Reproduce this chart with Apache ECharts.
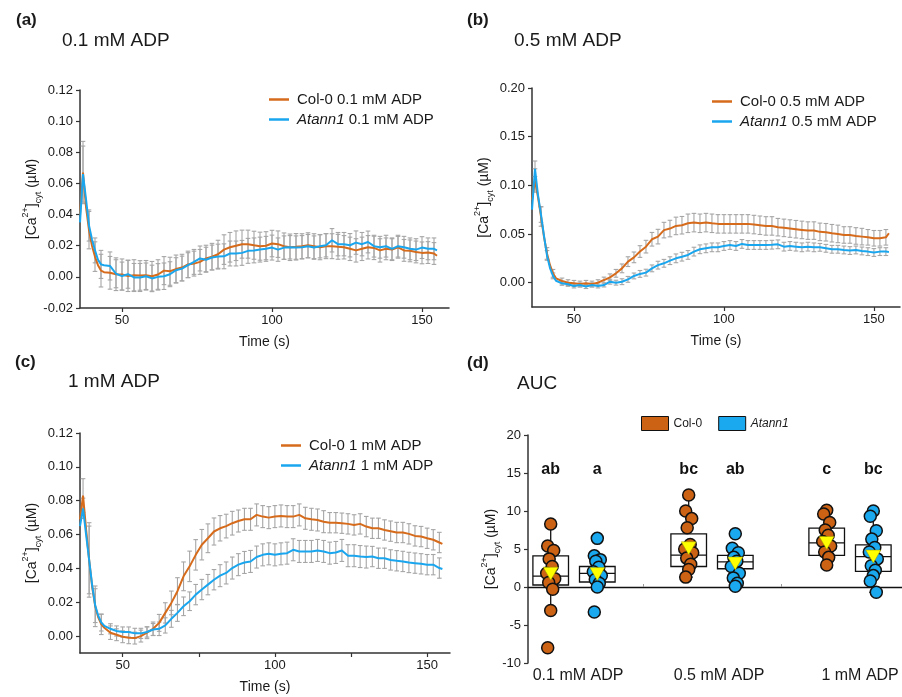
<!DOCTYPE html>
<html><head><meta charset="utf-8">
<script src="https://cdn.jsdelivr.net/npm/echarts@6/dist/echarts.min.js"></script>
<style>html,body{margin:0;padding:0;background:#fff}#c{width:902px;height:697px}</style>
</head><body><div id="c"></div>
<script>
// ---------- DATA ----------
const T = [36,37,38,39,40,41,42,43,44,46,48,50,52,54,56,58,60,62,64,66,68,70,72,74,76,78,80,82,84,86,88,90,92,94,96,98,100,102,104,106,108,110,112,114,116,118,120,122,124,126,128,130,132,134,136,138,140,142,144,146,148,150,152,154,155];

// Panel (a) 0.1 mM ADP
const A_col = [0.040,0.067,0.045,0.030,0.020,0.013,0.0075,0.004,0.003,
 0.0026,0.0017,0.0015,0.0006,0.001,0.0009,0.001,0.0004,0.0015,0.004,0.0036,0.005,0.006,
 0.008,0.0085,0.0096,0.0118,0.013,0.0145,0.0175,0.019,0.020,0.021,0.021,0.0203,0.0197,0.020,0.0214,
 0.021,0.0197,0.019,0.0193,0.0197,0.0203,0.0197,0.019,0.0197,0.0197,0.0193,0.019,0.018,0.017,0.018,
 0.019,0.0186,0.017,0.018,0.0175,0.019,0.017,0.0167,0.016,0.0154,0.0156,0.015,0.0135];
const A_ann = [0.035,0.066,0.050,0.033,0.024,0.017,0.011,0.008,0.0075,
 0.007,0.002,0.0005,0.0017,-0.0004,-0.0004,0.0004,-0.001,0.0,0.0004,0.0017,0.0043,0.0053,
 0.0075,0.0096,0.0118,0.011,0.0124,0.013,0.0132,0.015,0.015,0.0154,0.0167,0.017,0.0175,0.018,0.0188,
 0.0175,0.0188,0.019,0.0188,0.019,0.0197,0.0188,0.0197,0.0203,0.0235,0.021,0.021,0.0203,0.022,0.021,
 0.0224,0.0197,0.019,0.0197,0.018,0.0197,0.019,0.018,0.0175,0.0188,0.018,0.018,0.017];
const A_col_sem = [null,0.020,null,0.012,null,0.0095,null,0.0105,null,
 0.0105,0.0105,0.010,0.010,0.010,0.0095,0.0095,0.0095,0.0095,0.009,0.009,0.009,0.0085,
 0.0085,0.008,0.008,0.0085,0.0085,0.009,0.0095,0.0095,0.0095,0.009,0.009,0.009,0.009,0.009,0.0085,
 0.0085,0.0085,0.0085,0.0085,0.008,0.008,0.008,0.008,0.008,0.008,0.008,0.0075,0.0075,0.0075,0.0075,
 0.0075,0.0075,0.0075,0.007,0.007,0.007,0.007,0.007,0.007,0.007,0.007,0.007,null];
const A_ann_sem = [null,0.018,null,0.010,null,0.008,null,0.009,null,
 0.009,0.009,0.009,0.009,0.009,0.009,0.0085,0.0085,0.0085,0.0085,0.008,0.008,0.008,
 0.008,0.008,0.008,0.008,0.008,0.008,0.008,0.008,0.008,0.008,0.008,0.008,0.008,0.008,0.008,
 0.0075,0.0075,0.0075,0.0075,0.0075,0.0075,0.0075,0.0075,0.0075,0.0075,0.0075,0.0075,0.0075,0.0075,0.0075,
 0.007,0.007,0.007,0.007,0.007,0.007,0.007,0.007,0.007,0.007,0.007,0.007,null];

// Panel (b) 0.5 mM ADP
const B_col = [0.085,0.105,0.088,0.068,0.047,0.030,0.018,0.0096,0.0045,
 0.0017,0.0,-0.0007,-0.0014,-0.0007,-0.0014,0.0,0.0027,0.0055,0.0096,0.0147,0.0216,0.026,
 0.032,0.037,0.0446,0.0473,0.054,0.0556,0.0583,0.059,0.061,0.0617,0.061,0.0617,0.061,0.0604,0.0604,
 0.0604,0.0604,0.0604,0.0604,0.0597,0.059,0.0583,0.0583,0.057,0.0563,0.0556,0.0549,0.0542,0.0535,0.0535,
 0.0522,0.0518,0.0508,0.0501,0.049,0.049,0.048,0.0473,0.0466,0.0456,0.0456,0.0466,0.0508];
const B_ann = [0.075,0.117,0.090,0.070,0.048,0.028,0.015,0.007,0.002,
 -0.0007,-0.0017,-0.0034,-0.0024,-0.004,-0.0024,-0.0034,-0.0024,0.001,0.0,0.001,0.0034,0.0069,
 0.009,0.0103,0.0147,0.018,0.0199,0.0226,0.025,0.0267,0.0285,0.0319,0.0343,0.0353,0.0363,0.0363,0.0377,
 0.0387,0.0377,0.0398,0.0387,0.0387,0.0387,0.0387,0.039,0.0394,0.037,0.0377,0.037,0.0363,0.037,0.0363,
 0.0363,0.0353,0.0343,0.0343,0.0336,0.033,0.0336,0.0326,0.0319,0.031,0.0319,0.0319,0.0316];
const B_col_sem = [null,0.012,null,0.010,null,0.006,null,0.004,null,
 0.003,0.003,0.003,0.003,0.003,0.003,0.003,0.003,0.0035,0.004,0.0045,0.005,0.0055,
 0.006,0.0065,0.007,0.0075,0.008,0.0085,0.009,0.009,0.0095,0.0095,0.0095,0.0095,0.0095,0.0095,0.0095,
 0.0095,0.0095,0.0095,0.0095,0.0095,0.0095,0.0095,0.0095,0.009,0.009,0.009,0.009,0.009,0.009,0.009,
 0.009,0.009,0.009,0.009,0.0085,0.0085,0.0085,0.0085,0.008,0.008,0.008,0.008,null];
const B_ann_sem = [null,0.008,null,0.008,null,0.005,null,0.003,null,
 0.002,0.002,0.002,0.002,0.002,0.002,0.002,0.002,0.0025,0.0025,0.003,0.003,0.003,
 0.0035,0.0035,0.0035,0.004,0.004,0.004,0.0045,0.0045,0.0045,0.0045,0.0045,0.0045,0.0045,0.0045,0.0045,
 0.0045,0.0045,0.0045,0.0045,0.0045,0.0045,0.0045,0.0045,0.0045,0.0045,0.0045,0.0045,0.0045,0.0045,0.0045,
 0.004,0.004,0.004,0.004,0.004,0.004,0.004,0.004,0.004,0.004,0.004,0.004,null];

// Panel (c) 1 mM ADP
const C_col = [0.069,0.083,0.063,0.045,0.029,0.0176,0.011,0.0069,0.0049,
 0.002,0.0008,-0.0004,-0.001,-0.0012,0.0,0.002,0.0043,0.0078,0.0137,0.0196,0.0265,0.0353,
 0.0412,0.048,0.054,0.0578,0.0618,0.0637,0.065,0.0667,0.068,0.069,0.069,0.0716,0.0706,0.070,0.0706,
 0.071,0.0706,0.0706,0.0716,0.0696,0.069,0.0686,0.0676,0.067,0.067,0.0667,0.0663,0.0657,0.0663,0.0647,
 0.0637,0.0637,0.0627,0.062,0.0612,0.0612,0.0604,0.0592,0.0588,0.0578,0.0569,0.0553,0.0545];
const C_ann = [0.065,0.0755,0.060,0.045,0.030,0.018,0.012,0.008,0.006,
 0.0043,0.003,0.0024,0.0024,0.0016,0.0016,0.0024,0.0039,0.0043,0.0063,0.0102,0.0137,0.0176,
 0.0206,0.0245,0.0275,0.0304,0.0333,0.0357,0.0373,0.0402,0.0422,0.0435,0.0441,0.0467,0.048,0.0486,0.048,
 0.0486,0.049,0.051,0.050,0.050,0.050,0.0506,0.050,0.049,0.0494,0.0506,0.0475,0.0475,0.047,0.0467,
 0.047,0.046,0.046,0.045,0.0445,0.0441,0.0435,0.0431,0.0427,0.0422,0.0422,0.0402,0.0396];
const C_col_sem = [null,0.010,null,0.022,null,0.012,null,0.006,null,
 0.004,0.0035,0.0035,0.0035,0.0035,0.0035,0.0035,0.004,0.005,0.006,0.007,0.008,0.0085,
 0.009,0.009,0.009,0.0085,0.008,0.0075,0.007,0.007,0.0065,0.0065,0.0065,0.0065,0.0065,0.0065,0.0065,
 0.0065,0.0065,0.0065,0.0065,0.0065,0.0065,0.0065,0.0065,0.006,0.006,0.006,0.006,0.006,0.006,0.006,
 0.006,0.006,0.006,0.006,0.006,0.006,0.006,0.006,0.006,0.006,0.006,0.006,null];
const C_ann_sem = [null,0.006,null,0.020,null,0.010,null,0.005,null,
 0.003,0.003,0.003,0.003,0.003,0.003,0.003,0.0035,0.004,0.0045,0.005,0.005,0.0055,
 0.0055,0.006,0.006,0.006,0.006,0.0065,0.0065,0.0065,0.0065,0.0065,0.0065,0.0065,0.0065,0.0065,0.0065,
 0.0065,0.0065,0.0065,0.0065,0.0065,0.0065,0.0065,0.0065,0.0065,0.0065,0.0065,0.0065,0.0065,0.0065,0.0065,
 0.006,0.006,0.006,0.006,0.006,0.006,0.006,0.006,0.006,0.006,0.006,0.006,null];

// Panel (d) AUC
const D_groups = ['0.1 mM ADP','0.5 mM ADP','1 mM ADP'];
const D_col_dots = [
  [8.3,5.4,4.8,3.7,2.7,1.8,1.1,0.6,-0.3,-3.1,-8.0],
  [12.1,10.0,9.0,7.8,5.6,5.0,4.5,3.8,3.0,2.3,1.3],
  [10.1,9.6,8.5,7.5,6.8,6.0,5.4,4.6,3.9,2.9]];
const D_ann_dots = [
  [6.4,4.1,3.6,3.4,2.6,2.0,1.5,1.0,0.5,0.0,-3.3],
  [7.0,5.1,4.5,3.9,3.4,2.7,1.8,1.2,0.5,0.1],
  [10.0,9.3,7.4,6.3,5.2,4.6,3.7,2.8,2.2,1.5,0.8,-0.7]];
// [whiskerLow, Q1, median, Q3, whiskerHigh]
const D_col_box = [[-3.1,0.26,1.44,4.1,8.3],[1.3,2.7,4.2,7.0,12.1],[2.9,4.15,5.8,7.75,10.1]];
const D_ann_box = [[0.0,0.66,1.8,2.7,4.1],[0.1,2.4,3.3,4.15,5.1],[-0.7,2.05,4.0,5.55,10.2]];
const D_col_mean = [1.75,5.1,5.8];
const D_ann_mean = [1.7,3.1,4.0];
const D_letters_col = ['ab','bc','c'];
const D_letters_ann = ['a','ab','bc'];
const D_letter_y = 15.5;

// ---------- STYLE ----------
const FONT = 'Liberation Sans, Arial, Helvetica, sans-serif';
const ORANGE = '#D66B1C', BLUE = '#1AA6EE';
const DOT_OR = '#CC6214', DOT_BL = '#1AA8EE';
const TXT = '#1a1a1a', AX = '#333';
const PX_PER_UNIT = 138;     // panel d position scale
const OFFS = 23.3 / PX_PER_UNIT;
const JIT = [0,-3,3,-1.5,1.5,-4,4,-2,2,0,-3,3];

const chart = echarts.init(document.getElementById('c'), null, {renderer:'canvas'});

function pairs(x, y){ return x.map((t,i)=>[t,y[i]]); }
function errSeries(x, y, s, idx){
  const data = [];
  for (let i=0;i<x.length;i++) if (s[i]!=null) data.push([x[i], y[i]-s[i], y[i]+s[i]]);
  return {type:'custom', xAxisIndex:idx, yAxisIndex:idx, data, silent:true, z:2,
    encode:{x:0, y:[1,2]},
    renderItem(p, api){
      const xv = api.value(0);
      const lo = api.coord([xv, api.value(1)]), hi = api.coord([xv, api.value(2)]);
      const w = 2.3, st = {stroke:'#A6A6A6', lineWidth:1.1};
      return {type:'group', children:[
        {type:'line', shape:{x1:lo[0],y1:lo[1],x2:hi[0],y2:hi[1]}, style:st},
        {type:'line', shape:{x1:lo[0]-w,y1:lo[1],x2:lo[0]+w,y2:lo[1]}, style:st},
        {type:'line', shape:{x1:hi[0]-w,y1:hi[1],x2:hi[0]+w,y2:hi[1]}, style:st}]};
    }};
}
function lineSeries(name, x, y, color, idx){
  return {type:'line', name, xAxisIndex:idx, yAxisIndex:idx, data:pairs(x,y), symbol:'none',
    lineStyle:{color, width:2}, itemStyle:{color}, z:3, silent:true, animation:false};
}
const ylabName = '[Ca{sup|2+}]{sub|cyt} (µM)';
const ylabStyle = {fontSize:14, color:TXT, fontFamily:FONT, lineHeight:22,
  rich:{sup:{fontSize:9, lineHeight:22, verticalAlign:'top', padding:[0,0,9,0], fontFamily:FONT, color:TXT},
        sub:{fontSize:9, lineHeight:22, verticalAlign:'bottom', padding:[8,0,0,0], fontFamily:FONT, color:TXT}}};

function timeAxis(idx, max, ticks){
  return {type:'value', gridIndex:idx, min:36, max, name:'Time (s)', nameLocation:'middle', nameGap:27, nameMoveOverlap:false,
    nameTextStyle:{fontSize:14, color:TXT, fontFamily:FONT},
    axisLine:{onZero:false, lineStyle:{color:AX, width:1.5}},
    axisTick:{customValues:ticks, length:4, lineStyle:{color:AX, width:1.2}},
    axisLabel:{customValues:[50,100,150], fontSize:13, color:TXT, fontFamily:FONT, margin:6},
    splitLine:{show:false}};
}
function concAxis(idx, min, max, vals){
  return {type:'value', gridIndex:idx, min, max, name:ylabName, nameLocation:'middle', nameGap:37, nameRotate:90,
    nameMoveOverlap:false, nameTextStyle:ylabStyle,
    axisLine:{show:true, onZero:false, lineStyle:{color:AX, width:1.5}},
    axisTick:{show:true, customValues:vals, length:4, lineStyle:{color:AX, width:1.2}},
    axisLabel:{customValues:vals, fontSize:13, color:TXT, fontFamily:FONT, margin:7, formatter:v=>v.toFixed(2)},
    splitLine:{show:false}};
}
function legendLine(left, top, names){
  return {left, top, padding:0, orient:'vertical', data:names.map(n=>({name:n, icon:'rect'})),
    itemWidth:20, itemHeight:2.5, itemGap:3, selectedMode:false,
    textStyle:{fontSize:15, color:TXT, fontFamily:FONT, lineHeight:17, padding:[0,0,0,3],
      rich:{i:{fontStyle:'italic', fontSize:15, lineHeight:17, color:TXT, fontFamily:FONT}}},
    formatter:n=> n.indexOf('Atann1')===0 ? '{i|Atann1}'+n.slice(6) : n};
}

// ---------- PANEL D helpers ----------
const dPos = (g, s) => g + (s===0 ? -OFFS : OFFS);
function dotData(arr, s){
  const out = [];
  arr.forEach((vals,g)=>vals.forEach((v,i)=>out.push([dPos(g,s) + JIT[i%JIT.length]/PX_PER_UNIT, v])));
  return out;
}
function boxData(arr, s){ return arr.map((b,g)=>[dPos(g,s), ...b]); }
const boxSeries = (data) => ({type:'custom', xAxisIndex:3, yAxisIndex:3, data, silent:true, z:2,
  encode:{x:0, y:[1,2,3,4,5]},
  renderItem(p, api){
    const x = api.value(0);
    const c = k => api.coord([x, api.value(k)]);
    const lo=c(1), q1=c(2), md=c(3), q3=c(4), hi=c(5);
    const hw = 17.8, cw = 4, st = {stroke:'#111', lineWidth:1.3, fill:null};
    return {type:'group', children:[
      {type:'line', shape:{x1:hi[0],y1:hi[1],x2:q3[0],y2:q3[1]}, style:st},
      {type:'line', shape:{x1:lo[0],y1:lo[1],x2:q1[0],y2:q1[1]}, style:st},
      {type:'line', shape:{x1:hi[0]-cw,y1:hi[1],x2:hi[0]+cw,y2:hi[1]}, style:st},
      {type:'line', shape:{x1:lo[0]-cw,y1:lo[1],x2:lo[0]+cw,y2:lo[1]}, style:st},
      {type:'rect', shape:{x:q3[0]-hw, y:q3[1], width:2*hw, height:q1[1]-q3[1]}, style:{stroke:'#111', lineWidth:1.3, fill:'#fff'}},
      {type:'line', shape:{x1:md[0]-hw,y1:md[1],x2:md[0]+hw,y2:md[1]}, style:st}]};
  }});
const letterData = [...D_letters_col.map((l,g)=>[dPos(g,0),D_letter_y,l]), ...D_letters_ann.map((l,g)=>[dPos(g,1),D_letter_y,l])];

const titleStyle = (b)=>({fontSize:b?17:19, fontWeight:b?'bold':'normal', color:TXT, fontFamily:FONT});
const option = {
  animation:false,
  textStyle:{fontFamily:FONT},
  title:[
    {text:'(a)', left:16, top:12, padding:0, textStyle:titleStyle(true)},
    {text:'0.1 mM ADP', left:62, top:31, padding:0, textStyle:titleStyle(false)},
    {text:'(b)', left:467, top:12, padding:0, textStyle:titleStyle(true)},
    {text:'0.5 mM ADP', left:514, top:31, padding:0, textStyle:titleStyle(false)},
    {text:'(c)', left:15, top:354, padding:0, textStyle:titleStyle(true)},
    {text:'1 mM ADP', left:68, top:372, padding:0, textStyle:titleStyle(false)},
    {text:'(d)', left:467, top:355, padding:0, textStyle:titleStyle(true)},
    {text:'AUC', left:517, top:374, padding:0, textStyle:titleStyle(false)}
  ],
  legend:[
    legendLine(269, 91, ['Col-0 0.1 mM ADP','Atann1 0.1 mM ADP']),
    legendLine(712, 93, ['Col-0 0.5 mM ADP','Atann1 0.5 mM ADP']),
    legendLine(281, 437, ['Col-0 1 mM ADP','Atann1 1 mM ADP']),
    {left:641, top:416, padding:0, orient:'horizontal', data:['Col-0','Atann1'], icon:'rect', itemWidth:27, itemHeight:14, itemGap:16,
      selectedMode:false, itemStyle:{borderColor:'#111', borderWidth:1},
      textStyle:{fontSize:12, color:TXT, fontFamily:FONT, rich:{i:{fontStyle:'italic', fontSize:12, color:TXT, fontFamily:FONT}}},
      formatter:n=> n==='Atann1' ? '{i|Atann1}' : n}
  ],
  grid:[
    {left:80, top:90, width:369, height:218},
    {left:532, top:88, width:368, height:219},
    {left:80, top:433, width:370, height:220},
    {left:528, top:435, width:374, height:228}
  ],
  xAxis:[
    timeAxis(0, 159, [50,100,150]),
    timeAxis(1, 158.7, [50,100,150]),
    timeAxis(2, 157.5, [50,75,100,125,150]),
    {type:'value', gridIndex:3, min:-46/PX_PER_UNIT, max:(374-46)/PX_PER_UNIT,
      axisLine:{onZero:true, lineStyle:{color:'#111', width:1.3}},
      axisTick:{customValues:[0.5,1.5], length:3, inside:true, lineStyle:{color:'#999'}},
      axisLabel:{show:false}, splitLine:{show:false}},
    {type:'value', gridIndex:3, min:-0.355, max:2.297, position:'bottom',
      axisLine:{show:false, onZero:false}, axisTick:{show:false},
      axisLabel:{customValues:[0,1,2], formatter:v=>D_groups[Math.round(v)], fontSize:16, color:TXT, fontFamily:FONT, margin:5},
      splitLine:{show:false}}
  ],
  yAxis:[
    concAxis(0, -0.02, 0.12, [-0.02,0,0.02,0.04,0.06,0.08,0.10,0.12]),
    concAxis(1, -0.025, 0.20, [0,0.05,0.10,0.15,0.20]),
    concAxis(2, -0.01, 0.12, [0,0.02,0.04,0.06,0.08,0.10,0.12]),
    {type:'value', gridIndex:3, min:-10, max:20, interval:5, name:ylabName, nameLocation:'middle', nameGap:26, nameRotate:90,
      nameMoveOverlap:false, nameTextStyle:ylabStyle,
      axisLine:{show:true, onZero:false, lineStyle:{color:AX, width:1.5}},
      axisTick:{show:true, length:4, lineStyle:{color:AX, width:1.2}},
      axisLabel:{fontSize:13, color:TXT, fontFamily:FONT, margin:7}, splitLine:{show:false}}
  ],
  series:[
    errSeries(T, A_col, A_col_sem, 0), errSeries(T, A_ann, A_ann_sem, 0),
    lineSeries('Col-0 0.1 mM ADP', T, A_col, ORANGE, 0), lineSeries('Atann1 0.1 mM ADP', T, A_ann, BLUE, 0),
    errSeries(T, B_col, B_col_sem, 1), errSeries(T, B_ann, B_ann_sem, 1),
    lineSeries('Col-0 0.5 mM ADP', T, B_col, ORANGE, 1), lineSeries('Atann1 0.5 mM ADP', T, B_ann, BLUE, 1),
    errSeries(T, C_col, C_col_sem, 2), errSeries(T, C_ann, C_ann_sem, 2),
    lineSeries('Col-0 1 mM ADP', T, C_col, ORANGE, 2), lineSeries('Atann1 1 mM ADP', T, C_ann, BLUE, 2),
    boxSeries(boxData(D_col_box,0)), boxSeries(boxData(D_ann_box,1)),
    {type:'scatter', name:'Col-0', xAxisIndex:3, yAxisIndex:3, data:dotData(D_col_dots,0), symbolSize:12, z:4,
      itemStyle:{color:DOT_OR, borderColor:'#111', borderWidth:1.5, opacity:1}},
    {type:'scatter', name:'Atann1', xAxisIndex:3, yAxisIndex:3, data:dotData(D_ann_dots,1), symbolSize:12, z:4,
      itemStyle:{color:DOT_BL, borderColor:'#111', borderWidth:1.5, opacity:1}},
    {type:'scatter', name:'mean', xAxisIndex:3, yAxisIndex:3, z:5, symbol:'triangle', symbolRotate:180, symbolSize:[15,13],
      data:[...D_col_mean.map((v,g)=>[dPos(g,0),v]), ...D_ann_mean.map((v,g)=>[dPos(g,1),v])],
      itemStyle:{color:'#FFFF00', borderColor:'#999900', borderWidth:0.5, opacity:1}},
    {type:'custom', name:'letters', xAxisIndex:3, yAxisIndex:3, z:6, silent:true, data:letterData,
      encode:{x:0, y:1},
      renderItem(p, api){
        const pt = api.coord([api.value(0), api.value(1)]);
        return {type:'text', x:pt[0], y:pt[1], style:{text:letterData[p.dataIndex][2], fill:'#111',
          font:'bold 16px ' + FONT, align:'center', verticalAlign:'middle'}};
      }}
  ]
};
chart.setOption(option);
</script></body></html>
